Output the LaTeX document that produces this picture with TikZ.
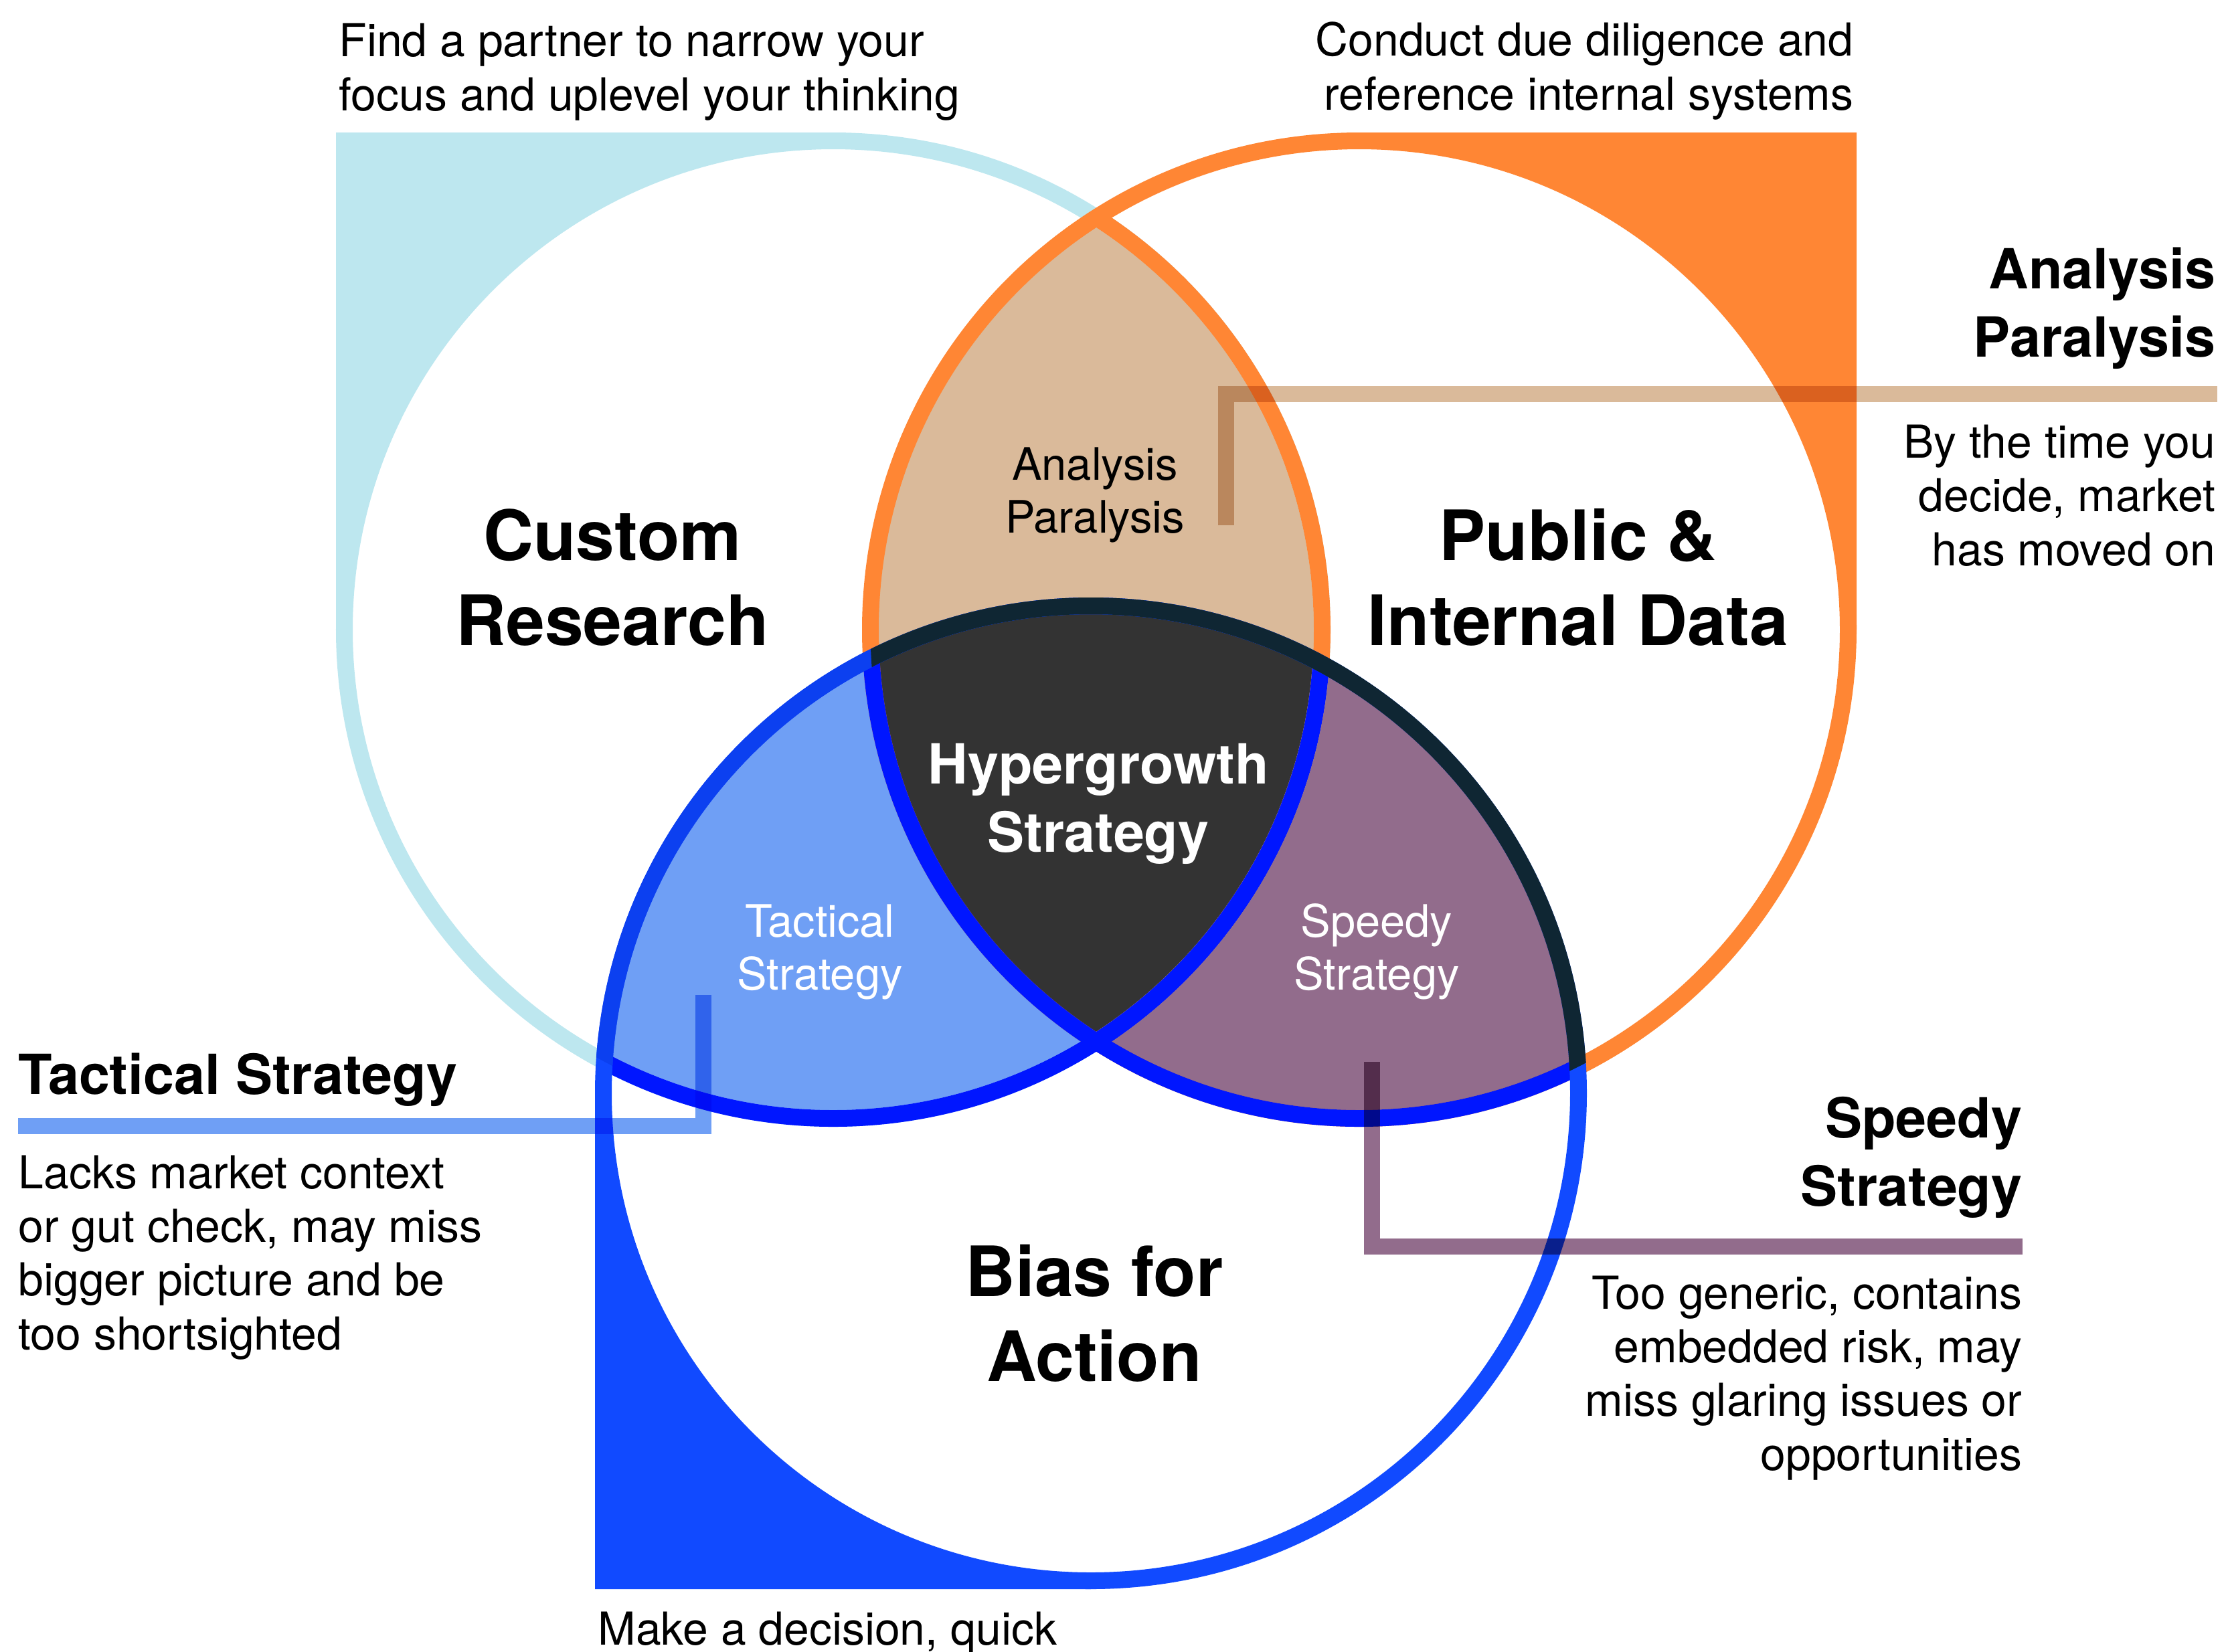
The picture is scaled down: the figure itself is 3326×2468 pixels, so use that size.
\documentclass[tikz,border=0pt]{standalone}
\usepackage{fontspec}
\setmainfont{TeX Gyre Heros}

\definecolor{skyring}{RGB}{189,231,239}
\definecolor{orangering}{RGB}{255,134,52}
\definecolor{bluering}{RGB}{17,74,255}
\definecolor{deepblue}{RGB}{0,22,255}
\definecolor{bluesky}{RGB}{12,64,240}
\definecolor{navyring}{RGB}{15,38,51}
\definecolor{tanfill}{RGB}{218,186,154}
\definecolor{tacticfill}{RGB}{111,159,245}
\definecolor{speedfill}{RGB}{146,108,140}
\definecolor{hyperfill}{RGB}{51,51,51}

\begin{document}
\begin{tikzpicture}[
  x=0.01cm, y=0.01cm,
  ring/.style={line width=0.25cm},
  callout/.style={line width=0.245cm},
  body/.style={font=\fontsize{19.3pt}{22.8pt}\selectfont, inner sep=0pt},
  head/.style={font=\fontsize{23.5pt}{28.9pt}\selectfont\bfseries, inner sep=0pt},
  title/.style={font=\fontsize{29.5pt}{36.1pt}\selectfont\bfseries, inner sep=0pt, align=center, anchor=base},
  region/.style={font=\fontsize{19pt}{22.3pt}\selectfont, inner sep=0pt, align=center, anchor=base}
]
\useasboundingbox (0,0) rectangle (3326,-2468);

\coordinate (cL) at (1245,-941);
\coordinate (cO) at (2031,-941);
\coordinate (cB) at (1630,-1634);

% corner tails (arc tucked under the ring)
\fill[skyring] (502,-198) -- (1245,-198) -- (1245,-205) arc[start angle=90, end angle=180, radius=736] -- (502,-941) -- cycle;
\fill[orangering] (2774,-198) -- (2031,-198) -- (2031,-205) arc[start angle=90, end angle=0, radius=736] -- (2774,-941) -- cycle;
\fill[bluering] (889,-2375) -- (889,-1634) -- (895,-1634) arc[start angle=180, end angle=270, radius=735] -- (1630,-2375) -- cycle;

% overlaps
\begin{scope}
  \clip (cO) circle[radius=730.5];
  \fill[speedfill] (cB) circle[radius=728.5];
\end{scope}
\begin{scope}
  \clip (cL) circle[radius=730.5];
  \fill[tacticfill] (cB) circle[radius=728.5];
  \fill[tanfill] (cO) circle[radius=730.5];
  \clip (cO) circle[radius=730.5];
  \fill[hyperfill] (cB) circle[radius=728.5];
\end{scope}

% rings
\draw[ring, skyring] (cL) circle[radius=730.5];
\begin{scope}
  \clip (cO) circle[radius=730.5];
  \draw[ring, orangering] (cL) circle[radius=730.5];
\end{scope}
\draw[ring, orangering] (cO) circle[radius=730.5];
\begin{scope}
  \clip (cB) circle[radius=728.5];
  \foreach \c in {cL,cO}
    \draw[ring, deepblue] (\c) circle[radius=730.5];
\end{scope}
\draw[ring, bluering] (cB) circle[radius=728.5];
\foreach \c/\col in {cL/bluesky, cO/navyring} {
  \begin{scope}
    \clip (\c) circle[radius=730.5];
    \draw[ring, \col] (cB) circle[radius=728.5];
  \end{scope}
}

% labels inside the circles (base = last line)
\node[title] (crtitle) at (915,-964) {Custom\\Research};
\node[title] (pdtitle) at (2358,-964) {Public \&\\Internal Data};
\node[title] (batitle) at (1635,-2064) {Bias for\\Action};
\node[region] (aplabel) at (1636,-796) {Analysis\\Paralysis};
\node[head, align=center, anchor=base, text=white] (hglabel) at (1641,-1273) {Hypergrowth\\Strategy};
\node[region, text=white] (tslabel) at (1225,-1479) {Tactical\\Strategy};
\node[region, text=white] (sslabel) at (2057,-1479) {Speedy\\Strategy};

% callout lines
\coordinate (apfoot) at (1832,-785);
\coordinate (apend) at (3313,-589);
\coordinate (tsfoot) at (1051,-1487);
\coordinate (tsend) at (27,-1683);
\coordinate (ssfoot) at (2050,-1587);
\coordinate (ssend) at (3022,-1863);
\begin{scope}[blend mode=multiply]
  \draw[callout, tanfill] (apfoot) |- (apend);
  \draw[callout, tacticfill] (tsfoot) |- (tsend);
  \draw[callout, speedfill] (ssfoot) |- (ssend);
\end{scope}

% side notes
\node[body, align=left, anchor=base west] (crnote) at (506,-165) {Find a partner to narrow your\\focus and uplevel your thinking};
\node[body, align=right, anchor=base east] (pdnote) at (2770,-164) {Conduct due diligence and\\reference internal systems};
\node[head, align=right, anchor=base east] (aphead) at (3311,-533) {Analysis\\Paralysis};
\node[body, align=right, anchor=base east] (apnote) at (3311,-845) {By the time you\\decide, market\\has moved on};
\node[head, anchor=base west] (tshead) at (27,-1635) {Tactical Strategy};
\node[body, align=left, anchor=base west] (tsnote) at (27,-2017) {Lacks market context\\or gut check, may miss\\bigger picture and be\\too shortsighted};
\node[head, align=right, anchor=base east] (sshead) at (3022,-1802) {Speedy\\Strategy};
\node[body, align=right, anchor=base east] (ssnote) at (3022,-2197) {Too generic, contains\\embedded risk, may\\miss glaring issues or\\opportunities};
\node[body, anchor=base west] (banote) at (893,-2458) {Make a decision, quick};
\end{tikzpicture}
\end{document}
